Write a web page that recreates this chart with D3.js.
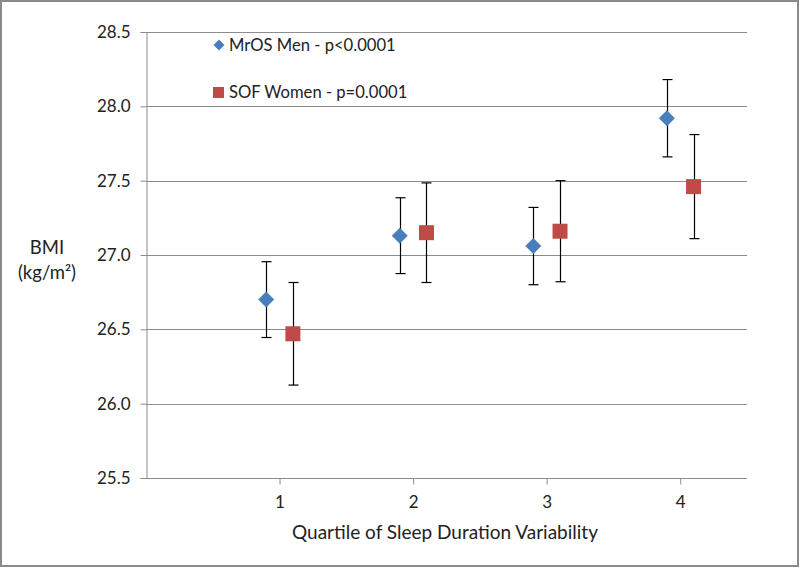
<!DOCTYPE html>
<html>
<head>
<meta charset="utf-8">
<script src="https://cdn.jsdelivr.net/npm/d3@7"></script>
<style>
  html, body { margin: 0; padding: 0; background: #fff; }
  svg { display: block; }
  text { font-family: Lato, "Open Sans", sans-serif; fill: #222; }
</style>
</head>
<body>
<svg id="chart" width="800" height="568"></svg>
<script>
// ---- Data ----
const quartiles = [1, 2, 3, 4];
const mrosX = [0.9, 1.9, 2.9, 3.9];
const mrosBMI = [26.70, 27.13, 27.06, 27.92];
const mrosErr = [0.255, 0.255, 0.26, 0.26];
const sofX = [1.1, 2.1, 3.1, 4.1];
const sofBMI = [26.47, 27.15, 27.16, 27.46];
const sofErr = [0.345, 0.335, 0.34, 0.35];
const yTicks = [25.5, 26.0, 26.5, 27.0, 27.5, 28.0, 28.5];
const seriesNames = ["MrOS Men - p<0.0001", "SOF Women - p=0.0001"];

(function () {
const svg = d3.select("#chart");
const W = 800, H = 568;

// border
svg.append("rect").attr("x", 1).attr("y", 1).attr("width", W - 3).attr("height", H - 3)
  .attr("fill", "#fff").attr("stroke", "#8a8a8a").attr("stroke-width", 2);

const pL = 146, pR = 747, pT = 32, pB = 478;
const x = d3.scaleLinear().domain([0, 4.5]).range([pL, pR]);
const y = d3.scaleLinear().domain([25.5, 28.5]).range([pB, pT]);

// gridlines
svg.append("g").selectAll("line").data(yTicks.filter(d => d !== 25.5)).join("line")
  .attr("x1", pL).attr("x2", pR)
  .attr("y1", d => Math.round(y(d)) + 0.5).attr("y2", d => Math.round(y(d)) + 0.5)
  .attr("stroke", "#8c8c8c").attr("stroke-width", 1);

// y axis
const yAxis = svg.append("g").attr("transform", `translate(${pL + 0.5},0)`)
  .call(d3.axisLeft(y).tickValues(yTicks).tickFormat(d3.format(".1f")).tickSize(6).tickPadding(10));
yAxis.select(".domain").attr("stroke", "#8c8c8c");
yAxis.selectAll(".tick line").attr("stroke", "#8c8c8c");
yAxis.selectAll("text").attr("font-size", 17).attr("fill", "#333").style("font-family", "Lato, sans-serif");

// x axis
const xAxis = svg.append("g").attr("transform", `translate(0,${Math.round(pB) + 0.5})`)
  .call(d3.axisBottom(x).tickValues(quartiles).tickFormat(d3.format("d")).tickSize(6).tickPadding(11));
xAxis.select(".domain").attr("stroke", "#8c8c8c").attr("d", `M${pL},0H${pR}`);
xAxis.selectAll(".tick line").attr("stroke", "#8c8c8c");
xAxis.selectAll("text").attr("font-size", 17).attr("fill", "#333").style("font-family", "Lato, sans-serif");

// axis titles
svg.append("text").attr("x", 445).attr("y", 539).attr("text-anchor", "middle")
  .attr("font-size", 19).text("Quartile of Sleep Duration Variability");
const yt = svg.append("text").attr("x", 47).attr("text-anchor", "middle").attr("font-size", 18.5);
yt.append("tspan").attr("x", 47).attr("y", 254).text("BMI");
yt.append("tspan").attr("x", 47).attr("y", 279).text("(kg/m²)");

// error bars
function errorBars(xs, vals, errs) {
  const g = svg.append("g").attr("stroke", "#000").attr("stroke-width", 1.2);
  xs.forEach((xv, i) => {
    const cx = Math.round(x(xv)) + 0.5;
    const y1 = y(vals[i] + errs[i]), y2 = y(vals[i] - errs[i]);
    g.append("line").attr("x1", cx).attr("x2", cx).attr("y1", y1).attr("y2", y2);
    g.append("line").attr("x1", cx - 5).attr("x2", cx + 5).attr("y1", y1).attr("y2", y1);
    g.append("line").attr("x1", cx - 5).attr("x2", cx + 5).attr("y1", y2).attr("y2", y2);
  });
}
errorBars(mrosX, mrosBMI, mrosErr);
errorBars(sofX, sofBMI, sofErr);

const diamond = (s) => `M0,${-s}L${s},0L0,${s}L${-s},0Z`;
// markers
svg.append("g").selectAll("path").data(mrosX.map((d, i) => [d, mrosBMI[i]])).join("path")
  .attr("d", diamond(8)).attr("transform", d => `translate(${x(d[0])},${y(d[1])})`)
  .attr("fill", "#4A7EBB");
svg.append("g").selectAll("rect").data(sofX.map((d, i) => [d, sofBMI[i]])).join("rect")
  .attr("x", d => x(d[0]) - 7.5).attr("y", d => y(d[1]) - 7.5)
  .attr("width", 15).attr("height", 15).attr("fill", "#BE4B48");

// legend
const lg = svg.append("g");
lg.append("path").attr("d", diamond(5.5)).attr("transform", "translate(219,45)").attr("fill", "#4A7EBB");
lg.append("text").attr("x", 229).attr("y", 51).attr("font-size", 16.6).text(seriesNames[0]);
lg.append("rect").attr("x", 213).attr("y", 87).attr("width", 11).attr("height", 11).attr("fill", "#BE4B48");
lg.append("text").attr("x", 229).attr("y", 98).attr("font-size", 16.6).text(seriesNames[1]);
})();
</script>
</body>
</html>
